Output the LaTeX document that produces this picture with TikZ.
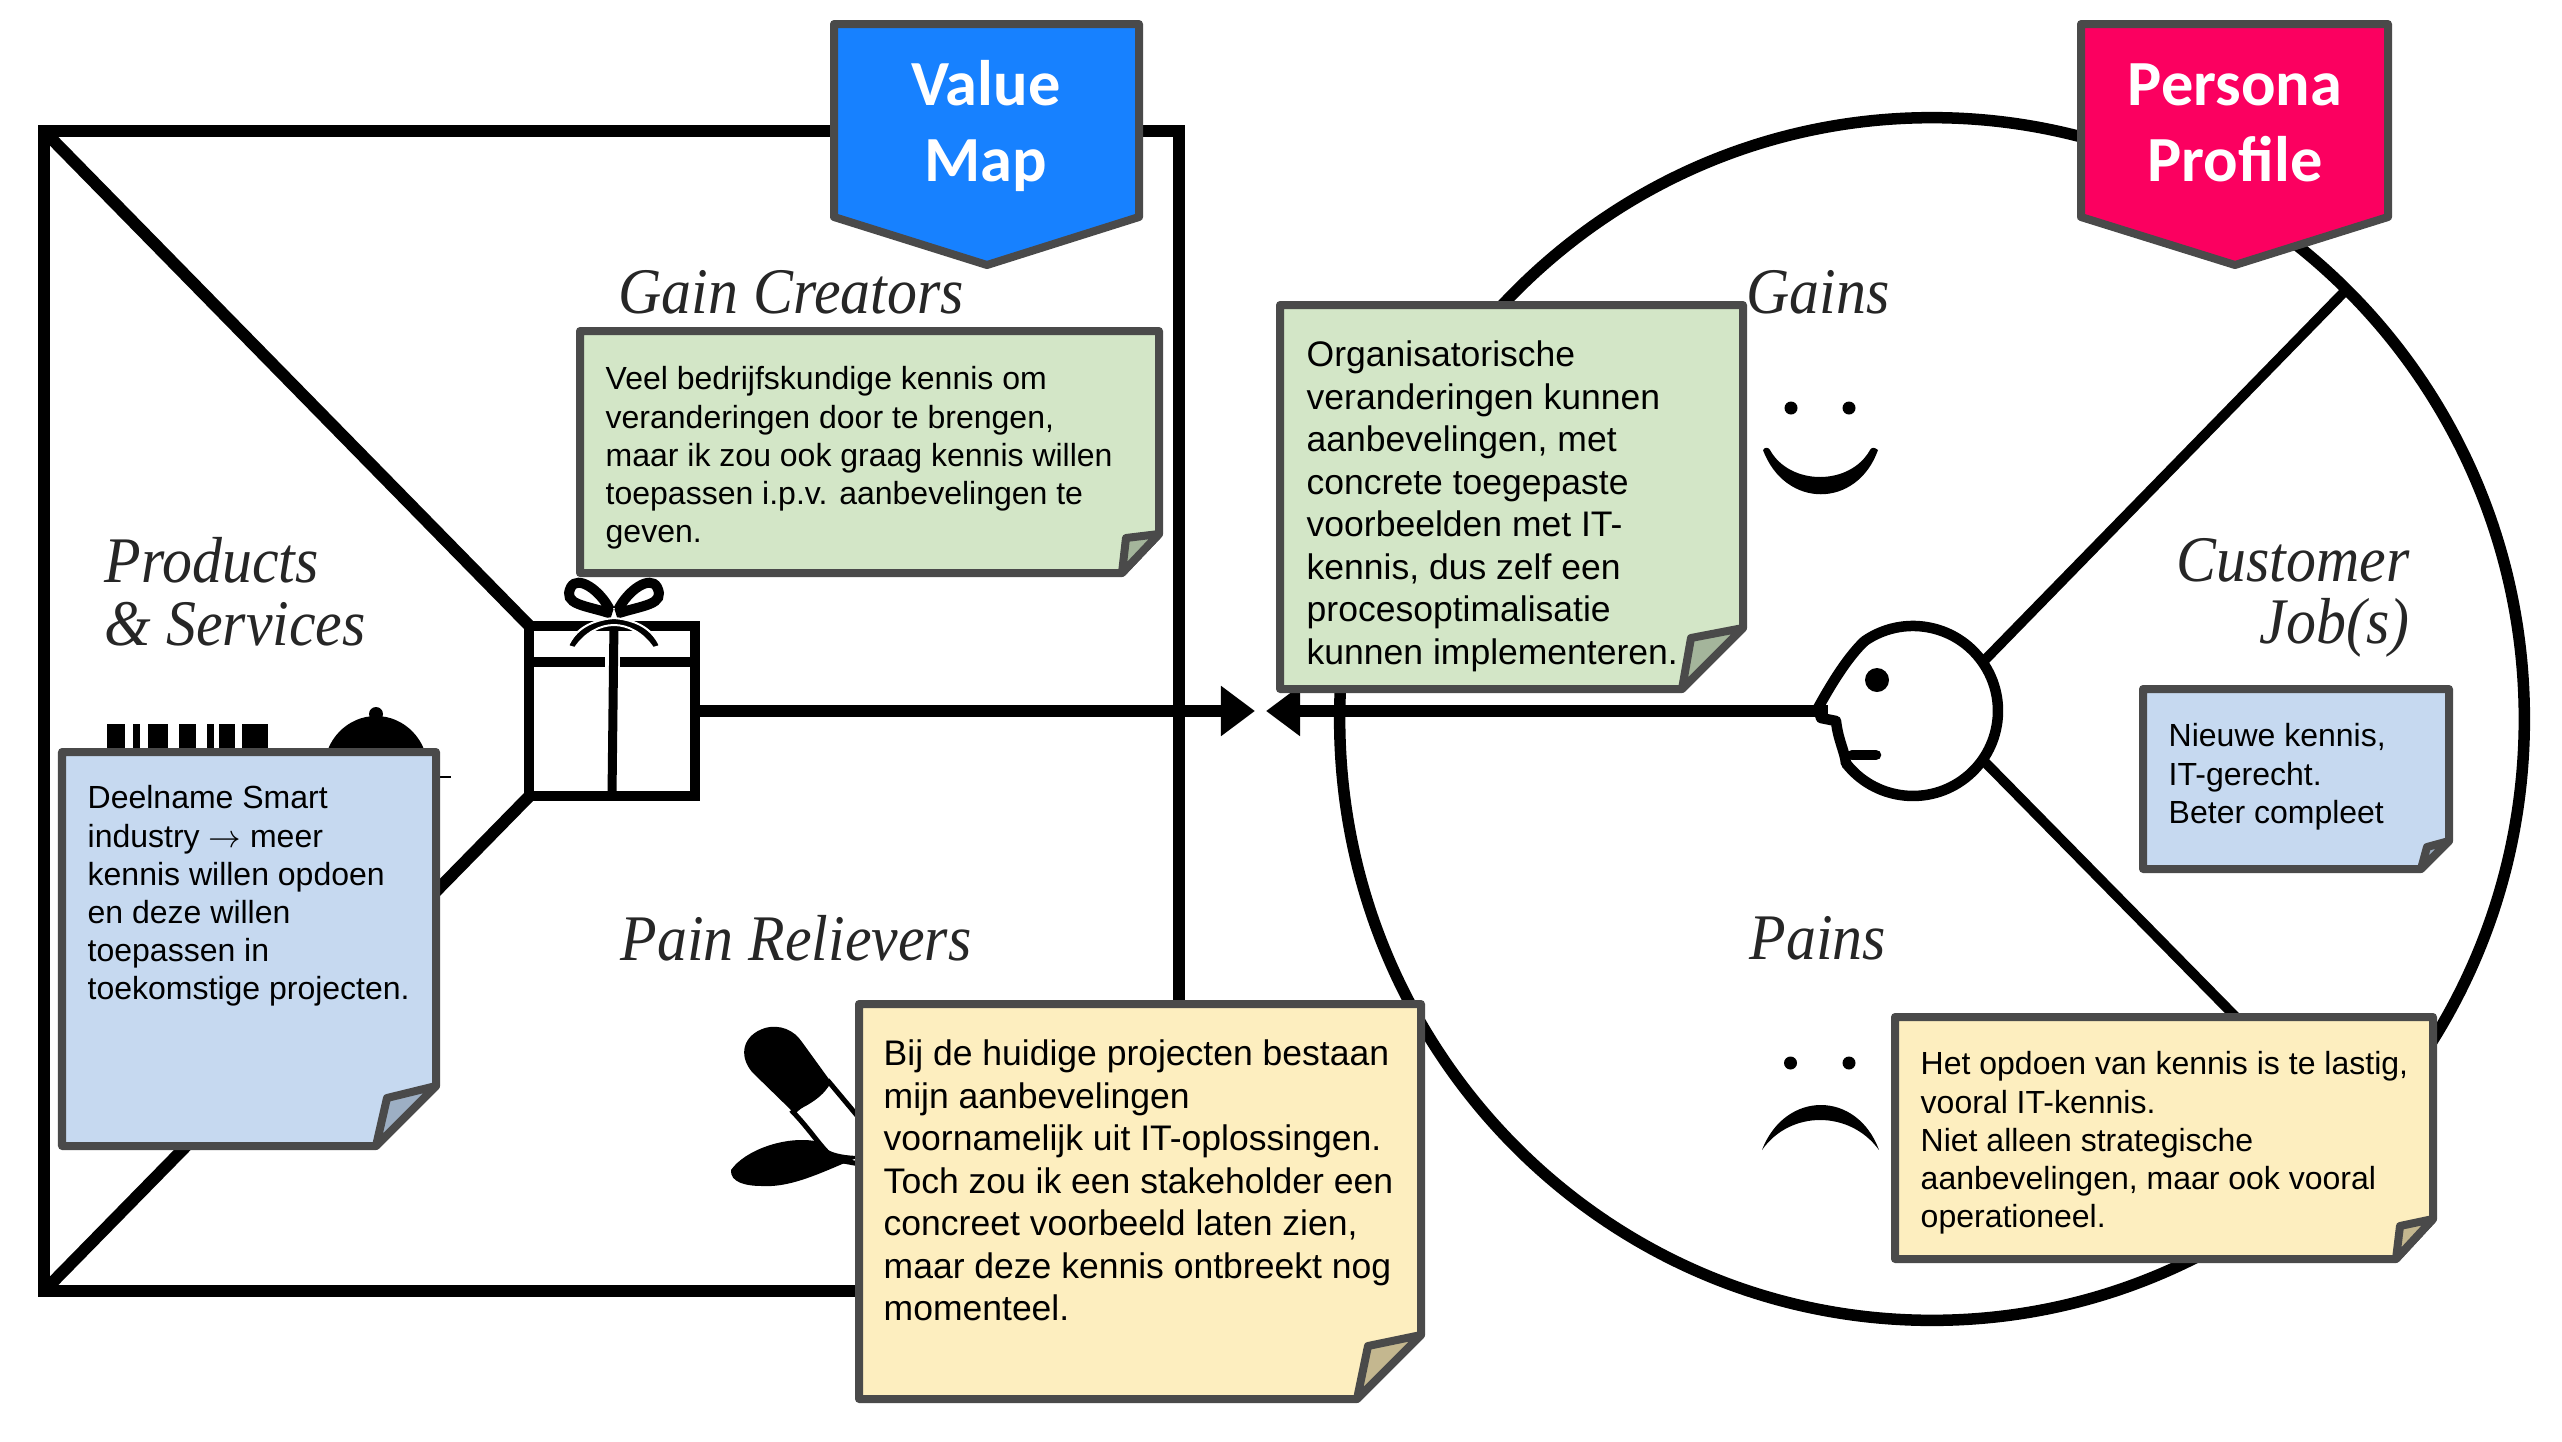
\documentclass[tikz,border=0pt]{standalone}
\usepackage{fontspec}
\setmainfont{Liberation Sans}
\newfontfamily\tagfont{Carlito}
\newfontfamily\titlefont[FakeStretch=0.92]{Liberation Serif}
\usetikzlibrary{arrows.meta}
\usetikzlibrary{shapes.geometric}
\definecolor{notegreen}{HTML}{D3E6C7}
\definecolor{notegreenfold}{HTML}{A4B59B}
\definecolor{noteblue}{HTML}{C6D9F0}
\definecolor{notebluefold}{HTML}{9DAFC4}
\definecolor{noteyellow}{HTML}{FDEEBF}
\definecolor{noteyellowfold}{HTML}{C4B78F}
\definecolor{notedraw}{HTML}{4A4A4A}
\definecolor{tagblue}{HTML}{1781FF}
\definecolor{tagpink}{HTML}{FB0060}
\tikzstyle{bigline} = [draw=black, line width=0.12cm]
\tikzstyle{thinline} = [draw=black, line width=0.105cm]
\tikzstyle{noteline} = [draw=notedraw, line width=0.08cm, line join=round]
\tikzstyle{tagshape} = [noteline]
\tikzstyle{tagtext} = [text=white, font=\tagfont\bfseries\fontsize{18.3}{21.5}\selectfont, align=center]
\tikzstyle{title} = [text=black!85, font=\titlefont\itshape\fontsize{18.5}{22}\selectfont, inner sep=0pt]
\tikzstyle{smalltext} = [anchor=north west, inner sep=0pt, align=left, font=\fontsize{9.1}{10.85}\selectfont]
\tikzstyle{bigtext} = [anchor=north west, inner sep=0pt, align=left, font=\fontsize{10.1}{12.1}\selectfont]
\tikzstyle{pointer} = [line width=0.125cm, -{Triangle[length=0.34cm,width=0.48cm]}]
% colour, left, top, right, bottom, fold on the right, fold at the bottom, inner point of the fold
\newcommand{\stickynote}[8]{
	\draw[noteline, fill=#1] (#2,#3) -- (#4,#3) -- (#4,#6) -- (#7,#5) -- (#2,#5) -- cycle;
	\draw[noteline, fill=#1fold] (#4,#6) -- (#8) -- (#7,#5) -- cycle;
}
\begin{document}
\begin{tikzpicture}[x=0.01cm, y=-0.01cm]
	\useasboundingbox (0,0) rectangle (2562,1442);
	% left square
	\node[bigline, rectangle, outer sep=0pt, minimum width=11.35cm, minimum height=11.6cm](valuemap) at (611.5,711){};
	\node[bigline, line width=0.1cm, rectangle, outer sep=0pt, minimum width=1.65cm, minimum height=1.7cm](gift) at (612,711){};
	\draw[bigline] (valuemap.north west) -- (gift.north west);
	\draw[bigline] (valuemap.south west) -- (gift.south west);
	% gift
	\draw[line width=0.1cm] (gift.west |- 0,662) -- (605,662);
	\draw[line width=0.1cm] (620,662) -- (gift.east |- 0,662);
	\draw[line width=0.09cm] (gift.south) -- (614,622);
	\draw[line width=0.1cm] (612,614) .. controls (585,605) and (562,605) .. (571,587) .. controls (578,575) and (600,590) .. (610,610);
	\draw[line width=0.1cm] (616,614) .. controls (643,605) and (666,605) .. (657,587) .. controls (650,575) and (628,590) .. (618,610);
	\draw[draw=white, line width=0.02cm, fill=black] (614,618) .. controls (590,620) and (575,630) .. (568,646) -- (575,648) .. controls (585,633) and (600,625) .. (614,625) .. controls (628,625) and (643,633) .. (653,648) -- (660,646) .. controls (653,630) and (638,620) .. (614,618);
	% icons of products and services
	\foreach \barx/\barw in {107/18, 133/7, 148/20, 179/17, 207/7, 219/16, 242/26}
		\fill[black] (\barx,724) rectangle ++(\barw,40);
	\fill[black] (324,770) arc[start angle=180, end angle=360, x radius=52, y radius=54] -- cycle;
	\fill[black] (376,714) circle (7);
	\draw[line width=0.02cm] (320,777) -- (451,777);
	% pill
	\draw[line width=0.05cm, fill=white] (829,1082) -- (865,1125) -- (865,1165) -- (838,1160) .. controls (825,1155) and (815,1135) .. (793,1112) -- cycle;
	\fill[black] (793,1112) -- (752,1072) .. controls (738,1055) and (743,1035) .. (765,1028) .. controls (780,1024) and (794,1030) .. (802,1042) -- (831,1082) .. controls (825,1095) and (810,1105) .. (793,1112) -- cycle;
	\fill[black] (731,1170) .. controls (745,1150) and (785,1136) .. (815,1141) .. controls (825,1150) and (835,1156) .. (862,1156) .. controls (830,1168) and (795,1188) .. (762,1186) .. controls (745,1186) and (730,1182) .. (731,1170) -- cycle;
	% right circle
	\node[draw=black, line width=0.115cm, ellipse, outer sep=0pt, minimum width=11.84cm, minimum height=12.02cm](profile) at (1932,719){};
	\node[circle, outer sep=0pt, minimum size=1.7cm](head) at (1913,711){};
	\draw[thinline, line width=0.1cm] (head.35) -- (2345,291);
	\draw[thinline, line width=0.1cm] (head.-35) -- (2345,1128);
	\draw[thinline, line join=round] (head.125) arc[start angle=-125, delta angle=267, radius=85];
	\draw[thinline, line join=round, line cap=round] (head.125) .. controls (1845,660) and (1828,690) .. (1818,708) -- (1821,718) -- (1836,721) .. controls (1838,740) and (1845,752) .. (head.-142);
	\draw[thinline, line cap=round] (1852,755) -- (1876,755);
	\fill[black] (1877,680) circle (12);
	% smile and frown
	\fill[black] (1791,408) circle (6.5);
	\fill[black] (1849,408) circle (6.5);
	\fill[black] (1763,450) .. controls (1785,509) and (1857,509) .. (1878,450) .. controls (1874,447) and (1872,447) .. (1870,450) .. controls (1850,486) and (1790,486) .. (1770,450) .. controls (1768,447) and (1765,447) .. (1763,450) -- cycle;
	\fill[black] (1790.5,1063) circle (6.5);
	\fill[black] (1849,1063) circle (6.5);
	\fill[black] (1762,1150) .. controls (1785,1090) and (1857,1090) .. (1879,1150) .. controls (1850,1110) and (1790,1110) .. (1762,1150) -- cycle;
	% arrows
	\coordinate (tipgain) at (1255,711);
	\coordinate (tippain) at (1266,711);
	\draw[pointer] (gift.east) -- (tipgain);
	\draw[pointer] (head.west) -- (tippain);
	% titles
	\node[title, anchor=west](gaincreators) at (618,292){Gain Creators};
	\node[title, anchor=west](products) at (104,560){Products};
	\node[title, anchor=west](services) at (104,624){\& Services};
	\node[title, anchor=west](painrelievers) at (620,938){Pain Relievers};
	\node[title, anchor=center](gains) at (1818,292){Gains};
	\node[title, anchor=center](customer) at (2293,560){Customer};
	\node[title, anchor=east](jobs) at (2410,628){Job(s)};
	\node[title, anchor=center](pains) at (1818,938){Pains};
	% tags
	\draw[tagshape, fill=tagblue] (834,24) -- (1139,24) -- (1139,217) -- (987,265) -- (834,217) -- cycle;
	\draw[tagshape, fill=tagpink] (2081,24) -- (2388,24) -- (2388,217) -- (2235,265) -- (2081,217) -- cycle;
	\node[tagtext](valuetag) at (986,126){Value\\Map};
	\node[tagtext](personatag) at (2235,123){Persona\\Profile};
	% notes
	\stickynote{noteblue}{62}{752}{436}{1146}{1086}{376}{387,1098}
	\node[smalltext](noteproducts) at (87,785){Deelname Smart\\industry $\rightarrow$ meer\\kennis willen opdoen\\en deze willen\\toepassen in\\toekomstige projecten.};
	\stickynote{notegreen}{580}{331}{1159}{573}{534}{1122}{1126,538}
	\node[smalltext](notecreators) at (605,366){Veel bedrijfskundige kennis om\\veranderingen door te brengen,\\maar ik zou ook graag kennis willen\\toepassen i.p.v. aanbevelingen te\\geven.};
	\stickynote{noteyellow}{859}{1004}{1421}{1399}{1335}{1357}{1368,1346}
	\node[bigtext](noterelievers) at (883,1039){Bij de huidige projecten bestaan\\mijn aanbevelingen\\voornamelijk uit IT-oplossingen.\\Toch zou ik een stakeholder een\\concreet voorbeeld laten zien,\\maar deze kennis ontbreekt nog\\momenteel.};
	\stickynote{notegreen}{1280}{305}{1743}{689}{628}{1682}{1691,638}
	\node[bigtext](notegains) at (1306,340){Organisatorische\\veranderingen kunnen\\aanbevelingen, met\\concrete toegepaste\\voorbeelden met IT-\\kennis, dus zelf een\\procesoptimalisatie\\kunnen implementeren.};
	\stickynote{noteblue}{2143}{689}{2449}{869}{841}{2421}{2427,847}
	\node[smalltext](notejobs) at (2168,723){Nieuwe kennis,\\IT-gerecht.\\Beter compleet};
	\stickynote{noteyellow}{1895}{1017}{2433}{1259}{1219}{2396}{2400,1226}
	\node[smalltext](notepains) at (1920,1051){Het opdoen van kennis is te lastig,\\vooral IT-kennis.\\Niet alleen strategische\\aanbevelingen, maar ook vooral\\operationeel.};
\end{tikzpicture}
\end{document}
